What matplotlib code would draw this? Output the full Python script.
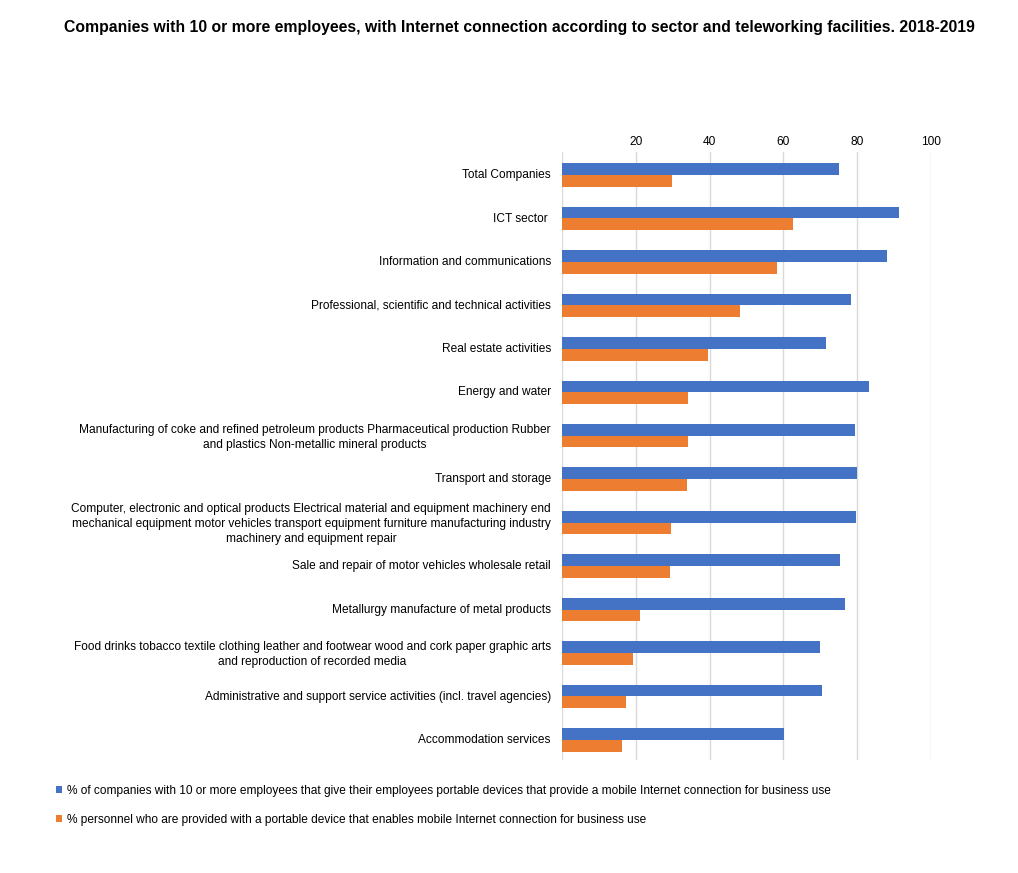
import matplotlib.pyplot as plt
import numpy as np

plt.rcParams['font.family'] = ['Liberation Sans', 'DejaVu Sans']

sectors = [
    "Total Companies",
    "ICT sector ",
    "Information and communications",
    "Professional, scientific and technical activities",
    "Real estate activities",
    "Energy and water",
    "Manufacturing of coke and refined petroleum products Pharmaceutical production Rubber\nand plastics Non-metallic mineral products",
    "Transport and storage",
    "Computer, electronic and optical products Electrical material and equipment machinery end\nmechanical equipment motor vehicles transport equipment furniture manufacturing industry\nmachinery and equipment repair",
    "Sale and repair of motor vehicles wholesale retail",
    "Metallurgy manufacture of metal products",
    "Food drinks tobacco textile clothing leather and footwear wood and cork paper graphic arts\nand reproduction of recorded media",
    "Administrative and support service activities (incl. travel agencies)",
    "Accommodation services",
]
companies_pct = [75.1, 91.3, 88.1, 78.3, 71.5, 83.2, 79.4, 79.9, 79.7, 75.3, 76.7, 69.9, 70.5, 60.2]
personnel_pct = [29.8, 62.6, 58.3, 48.2, 39.6, 34.1, 34.1, 33.9, 29.5, 29.3, 21.1, 19.2, 17.3, 16.3]

series_labels = [
    "% of companies with 10 or more employees that give their employees portable devices that provide a mobile Internet connection for business use",
    "% personnel who are provided with a portable device that enables mobile Internet connection for business use",
]

blue = "#4472C4"
orange = "#ED7D31"

fig = plt.figure(figsize=(10.18, 8.73), dpi=100)
ax = fig.add_axes([0.552, 0.129, 0.3625, 0.697])

y = np.arange(len(sectors))
h = 0.27
b1 = ax.barh(y - h / 2 + 0.03, companies_pct, height=h, color=blue, label=series_labels[0], zorder=3)
b2 = ax.barh(y + h / 2 + 0.03, personnel_pct, height=h, color=orange, label=series_labels[1], zorder=3)

ax.set_ylim(len(sectors) - 0.5, -0.5)
ax.set_xlim(0, 100)
ax.set_yticks(y)
ax.set_yticklabels(sectors, fontsize=8.6, ha="right", multialignment="center", linespacing=1.3)
ax.set_xticks([0, 20, 40, 60, 80, 100])
ax.set_xticklabels(["", "20", "40", "60", "80", "100"], fontsize=8.6)
ax.xaxis.tick_top()
ax.tick_params(axis="x", length=0, pad=3)
ax.tick_params(axis="y", length=0, pad=8)
ax.grid(axis="x", color="#d9d9d9", linewidth=1, zorder=0)
for s in ax.spines.values():
    s.set_visible(False)

fig.text(0.51, 0.968, "Companies with 10 or more employees, with Internet connection according to sector and teleworking facilities. 2018-2019",
         ha="center", va="center", fontsize=11.3, fontweight="bold")

fig.legend(handles=[b1, b2], labels=series_labels, loc="lower left",
           bbox_to_anchor=(0.045, 0.042), frameon=False, fontsize=8.55,
           handlelength=0.5, handleheight=0.5, handletextpad=0.4, labelspacing=1.4)

fig.savefig("out.png", dpi=100)
